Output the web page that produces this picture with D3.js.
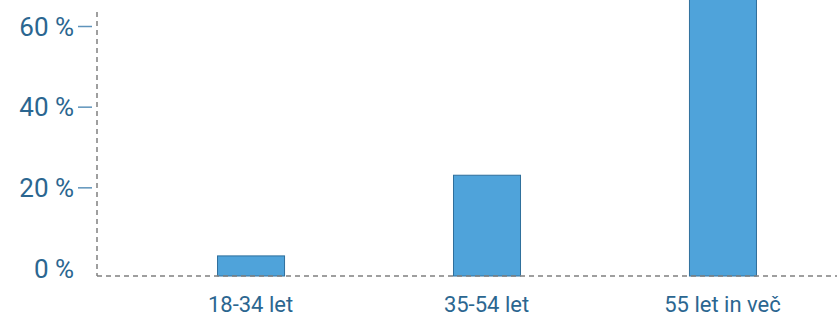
<!DOCTYPE html>
<html><head><meta charset="utf-8">
<script src="https://cdn.jsdelivr.net/npm/d3@7"></script>
<style>body{margin:0;background:#fff;overflow:hidden}svg{display:block}</style>
</head><body><svg id="c" width="837" height="319"></svg>
<script>
const categories = ["18-34 let", "35-54 let", "55 let in več"];
const values = [3, 23, 74];
const yTicks = [0, 20, 40, 60];
const yTickLabels = ["0 %", "20 %", "40 %", "60 %"];

(function () {
const mLeft = 97, mRight = 837, mTop = 12, zeroY = 268, baseY = 276;
const svg = d3.select("#c");
const x = d3.scaleBand().domain(categories).range([mLeft, mRight])
  .paddingInner(0.716).paddingOuter(0.426).align(0.597);
const y = d3.scaleLinear().domain([0, 60]).range([zeroY, 26]);

const textColor = "#2b6690";
const font = "Roboto, 'DejaVu Sans', sans-serif";

// bars
svg.append("g").selectAll("rect").data(values).join("rect")
  .attr("x", (d, i) => x(categories[i]) + 0.5)
  .attr("y", d => y(d))
  .attr("width", x.bandwidth())
  .attr("height", d => baseY - y(d))
  .attr("fill", "#4fa3da")
  .attr("stroke", "#2f6f9c")
  .attr("stroke-width", 1);

// y axis dashed line
svg.append("line").attr("x1", mLeft).attr("x2", mLeft).attr("y1", mTop).attr("y2", baseY)
  .attr("stroke", "#808080").attr("stroke-width", 1.5).attr("stroke-dasharray", "5,4");
// baseline
svg.append("line").attr("x1", mLeft).attr("x2", mRight).attr("y1", baseY).attr("y2", baseY)
  .attr("stroke", "#808080").attr("stroke-width", 1.5).attr("stroke-dasharray", "5,4");

// y ticks
const yAxis = d3.axisLeft(y).tickValues(yTicks).tickSize(0)
  .tickFormat((d, i) => yTickLabels[i]);
const ga = svg.append("g").attr("transform", `translate(${mLeft - 21},0)`).call(yAxis);
ga.select(".domain").remove();
ga.selectAll("text").attr("font-family", font).attr("font-size", 26)
  .attr("fill", textColor).attr("dy", "0.35em").attr("x", -2);
ga.selectAll(".tick").filter(d => d !== 0).append("line")
  .attr("x1", 2).attr("x2", 16).attr("y1", 0).attr("y2", 0)
  .attr("stroke", "#5e93bb").attr("stroke-width", 1.5);

// x labels
const xAxis = d3.axisBottom(x).tickSize(0);
const gx = svg.append("g").attr("transform", `translate(0,${baseY})`).call(xAxis);
gx.select(".domain").remove();
gx.selectAll("text").attr("font-family", font).attr("font-size", 22)
  .attr("fill", textColor).attr("y", 20).attr("dy", "0.71em");
})();
</script></body></html>
